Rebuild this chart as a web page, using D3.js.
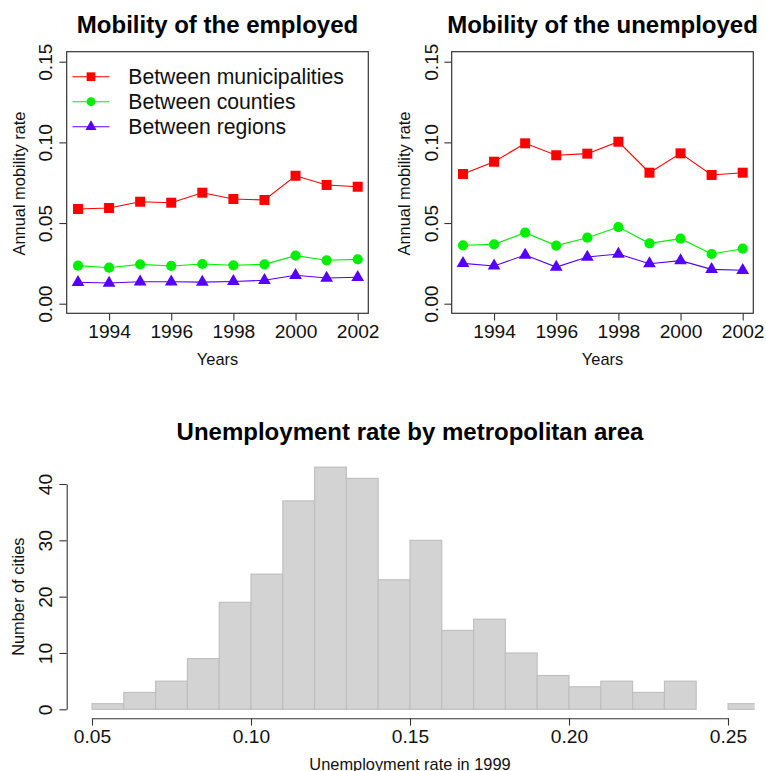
<!DOCTYPE html>
<html>
<head>
<meta charset="utf-8">
<script src="https://cdn.jsdelivr.net/npm/d3@7"></script>
<style>
  html, body { margin: 0; padding: 0; background: #fff; }
  svg { display: block; font-family: "Liberation Sans", Arial, Helvetica, sans-serif; }
</style>
</head>
<body>
<svg id="chart" width="766" height="771"></svg>
<script>
// Annual mobility rates, 1993-2002
const years = [1993, 1994, 1995, 1996, 1997, 1998, 1999, 2000, 2001, 2002];
const employedMunicipalities = [0.0587, 0.0593, 0.0632, 0.0626, 0.0688, 0.0649, 0.0643, 0.0793, 0.0736, 0.0725];
const employedCounties       = [0.0236, 0.0223, 0.0244, 0.0234, 0.0246, 0.0238, 0.0244, 0.0298, 0.0269, 0.0275];
const employedRegions        = [0.0133, 0.0128, 0.0136, 0.0136, 0.0134, 0.0138, 0.0145, 0.0176, 0.0159, 0.0164];
const unemployedMunicipalities = [0.0804, 0.0880, 0.0994, 0.0920, 0.0930, 0.1004, 0.0812, 0.0932, 0.0798, 0.0812];
const unemployedCounties       = [0.0362, 0.0368, 0.0440, 0.0360, 0.0409, 0.0475, 0.0374, 0.0403, 0.0308, 0.0341];
const unemployedRegions        = [0.0250, 0.0234, 0.0302, 0.0227, 0.0289, 0.0308, 0.0248, 0.0267, 0.0213, 0.0207];
const seriesNames = ["Between municipalities", "Between counties", "Between regions"];
const seriesColors = ["#ff0000", "#00ee00", "#5500ff"];
const seriesShapes = ["square", "circle", "triangle"];
const yearTicks = [1994, 1996, 1998, 2000, 2002];
const rateTicks = [0.00, 0.05, 0.10, 0.15];

// Histogram of 1999 unemployment rates across metropolitan areas
const binEdges = [0.05, 0.06, 0.07, 0.08, 0.09, 0.10, 0.11, 0.12, 0.13, 0.14, 0.15,
                  0.16, 0.17, 0.18, 0.19, 0.20, 0.21, 0.22, 0.23, 0.24, 0.25, 0.26];
const binCounts = [1, 3, 5, 9, 19, 24, 37, 43, 41, 23, 30, 14, 16, 10, 6, 4, 5, 3, 5, 0, 1];
const histXTicks = [0.05, 0.10, 0.15, 0.20, 0.25];
const histYTicks = [0, 10, 20, 30, 40];

const svg = d3.select("#chart");
const TICK_FONT = 19.2, LABEL_FONT = 16.4, TITLE_FONT = 24;

function marker(g, shape, x, y, color, scale) {
  if (shape === "square") {
    const s = 10 * scale;
    g.append("rect").attr("x", x - s / 2).attr("y", y - s / 2)
      .attr("width", s).attr("height", s).attr("fill", color);
  } else if (shape === "circle") {
    g.append("circle").attr("cx", x).attr("cy", y).attr("r", 5.1 * scale).attr("fill", color);
  } else {
    g.append("path")
      .attr("transform", `translate(${x},${y})`)
      .attr("d", d3.symbol(d3.symbolTriangle, 70 * scale * scale)())
      .attr("fill", color);
  }
}

function mobilityPanel(offsetX, title, seriesList, withLegend) {
  const box = { left: 66.7 + offsetX, right: 368.3 + offsetX, top: 51.7, bottom: 313.3 };
  const x = d3.scaleLinear().domain([1993, 2002]).range([78 + offsetX, 357.7 + offsetX]);
  const y = d3.scaleLinear().domain([0, 0.15]).range([303.7, 61.7]);
  const g = svg.append("g");

  // series
  seriesList.forEach((vals, i) => {
    const pts = years.map((yr, k) => [x(yr), y(vals[k])]);
    g.append("path").attr("d", d3.line()(pts))
      .attr("fill", "none").attr("stroke", seriesColors[i]).attr("stroke-width", 1.1);
    pts.forEach(p => marker(g, seriesShapes[i], p[0], p[1], seriesColors[i], 1));
  });

  // frame
  g.append("rect").attr("x", box.left).attr("y", box.top)
    .attr("width", box.right - box.left).attr("height", box.bottom - box.top)
    .attr("fill", "none").attr("stroke", "#333").attr("stroke-width", 1.2);

  // x axis
  const xa = g.append("g").attr("transform", `translate(0,${box.bottom})`)
    .call(d3.axisBottom(x).tickValues(yearTicks).tickFormat(d3.format("d")).tickSize(7.3).tickPadding(5));
  xa.select(".domain").remove();
  xa.selectAll("line").attr("stroke", "#333").attr("stroke-width", 1.1);
  xa.selectAll("text").attr("font-size", TICK_FONT).attr("font-family", null)
    .attr("fill", "#111").attr("dy", null).attr("y", 25.2);

  // y axis with rotated tick labels
  const ya = g.append("g").attr("transform", `translate(${box.left},0)`)
    .call(d3.axisLeft(y).tickValues(rateTicks).tickFormat(d3.format(".2f")).tickSize(7.3));
  ya.select(".domain").remove();
  ya.selectAll("line").attr("stroke", "#333").attr("stroke-width", 1.1);
  ya.selectAll("text").attr("font-size", TICK_FONT).attr("font-family", null)
    .attr("fill", "#111").attr("x", null).attr("dy", null)
    .attr("text-anchor", "middle")
    .attr("transform", `translate(${52.5 + offsetX - box.left},0) rotate(-90)`);

  // titles and axis labels
  g.append("text").attr("x", (box.left + box.right) / 2).attr("y", 33.3)
    .attr("text-anchor", "middle").attr("font-weight", "bold").attr("font-size", TITLE_FONT)
    .text(title);
  g.append("text").attr("x", (box.left + box.right) / 2).attr("y", 364.5)
    .attr("text-anchor", "middle").attr("font-size", LABEL_FONT).attr("fill", "#111").text("Years");
  g.append("text").attr("transform", `translate(${25 + offsetX},${(box.top + box.bottom) / 2 + 1}) rotate(-90)`)
    .attr("text-anchor", "middle").attr("font-size", LABEL_FONT).attr("fill", "#111")
    .text("Annual mobility rate");

  if (withLegend) {
    const lg = g.append("g");
    seriesNames.forEach((name, i) => {
      const ry = 76.7 + i * 25;
      lg.append("line").attr("x1", 72.5 + offsetX).attr("x2", 109.5 + offsetX)
        .attr("y1", ry).attr("y2", ry).attr("stroke", seriesColors[i]).attr("stroke-width", 1.1);
      marker(lg, seriesShapes[i], 91 + offsetX, ry, seriesColors[i], 0.87);
      lg.append("text").attr("x", 128.3 + offsetX).attr("y", ry + 7.6)
        .attr("font-size", 21.2).attr("fill", "#111").text(name);
    });
  }
}

mobilityPanel(0, "Mobility of the employed",
  [employedMunicipalities, employedCounties, employedRegions], true);
mobilityPanel(385, "Mobility of the unemployed",
  [unemployedMunicipalities, unemployedCounties, unemployedRegions], false);

// ---- histogram ----
(function histogram() {
  const x = d3.scaleLinear().domain([0.05, 0.25]).range([92, 728]);
  const y = d3.scaleLinear().domain([0, 40]).range([709.3, 484]);
  const plotLeft = 65.3, plotRight = 754.7;
  const g = svg.append("g");

  svg.append("defs").append("clipPath").attr("id", "histClip")
    .append("rect").attr("x", plotLeft).attr("y", 440).attr("width", plotRight - plotLeft).attr("height", 290);

  const bins = binCounts.map((c, i) => ({ x0: binEdges[i], x1: binEdges[i + 1], n: c }));
  g.append("g").attr("clip-path", "url(#histClip)")
    .selectAll("rect").data(bins).join("rect")
    .attr("x", d => x(d.x0)).attr("width", d => x(d.x1) - x(d.x0))
    .attr("y", d => y(d.n)).attr("height", d => y(0) - y(d.n))
    .attr("fill", "#d3d3d3").attr("stroke", "#bebebe").attr("stroke-width", 1.1);

  // x axis
  const xa = g.append("g").attr("transform", "translate(0,718.3)")
    .call(d3.axisBottom(x).tickValues(histXTicks).tickFormat(d3.format(".2f")).tickSize(7.3).tickSizeOuter(0));
  xa.select(".domain").attr("stroke", "#333").attr("stroke-width", 1.1);
  xa.selectAll("line").attr("stroke", "#333").attr("stroke-width", 1.1);
  xa.selectAll("text").attr("font-size", TICK_FONT).attr("font-family", null)
    .attr("fill", "#111").attr("dy", null).attr("y", 24.4);

  // y axis
  const ya = g.append("g").attr("transform", "translate(66.7,0)")
    .call(d3.axisLeft(y).tickValues(histYTicks).tickFormat(d3.format("d")).tickSize(7.3).tickSizeOuter(0));
  ya.select(".domain").attr("stroke", "#333").attr("stroke-width", 1.1);
  ya.selectAll("line").attr("stroke", "#333").attr("stroke-width", 1.1);
  ya.selectAll("text").attr("font-size", TICK_FONT).attr("font-family", null)
    .attr("fill", "#111").attr("x", null).attr("dy", null)
    .attr("text-anchor", "middle")
    .attr("transform", "translate(-14.2,0) rotate(-90)");

  g.append("text").attr("x", (plotLeft + plotRight) / 2).attr("y", 439.5)
    .attr("text-anchor", "middle").attr("font-weight", "bold").attr("font-size", TITLE_FONT)
    .text("Unemployment rate by metropolitan area");
  g.append("text").attr("x", (plotLeft + plotRight) / 2).attr("y", 769.5)
    .attr("text-anchor", "middle").attr("font-size", LABEL_FONT).attr("fill", "#111")
    .text("Unemployment rate in 1999");
  g.append("text").attr("transform", `translate(24.4,${(484 + 709.3) / 2}) rotate(-90)`)
    .attr("text-anchor", "middle").attr("font-size", LABEL_FONT).attr("fill", "#111")
    .text("Number of cities");
})();
</script>
</body>
</html>
